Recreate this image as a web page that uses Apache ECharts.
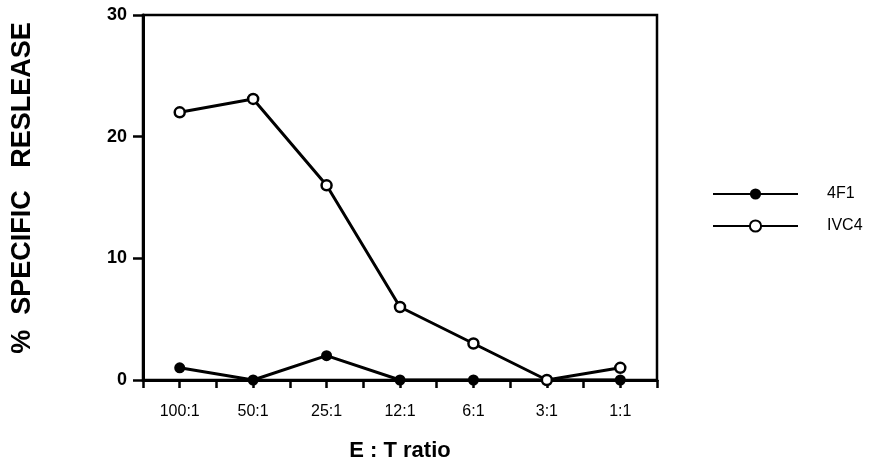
<!DOCTYPE html>
<html>
<head>
<meta charset="utf-8">
<script src="https://cdn.jsdelivr.net/npm/echarts@6/dist/echarts.min.js"></script>
<style>
  html, body { margin: 0; padding: 0; background: #fff; }
  #chart { width: 882px; height: 467px; }
</style>
</head>
<body>
<div id="chart"></div>
<script>
// E:T ratios on the x axis
const categories = ["100:1", "50:1", "25:1", "12:1", "6:1", "3:1", "1:1"];
// % specific release
const f4f1 = [1, 0, 2, 0, 0, 0, 0];
const ivc4 = [22, 23.1, 16, 6, 3, 0, 1];
const yTicks = [0, 10, 20, 30];

const font = "'Liberation Sans', Arial, Helvetica, sans-serif";
const chart = echarts.init(document.getElementById("chart"));

const tickStyle = { color: "#000", width: 2.5 };

chart.setOption({
  animation: false,
  backgroundColor: "#fff",
  grid: {
    left: 143,
    top: 15,
    width: 514,
    height: 366,
    show: true,
    borderColor: "#000",
    borderWidth: 2.5,
  },
  legend: {
    orient: "vertical",
    left: 712,
    top: 186,
    padding: 0,
    itemWidth: 85,
    itemHeight: 14,
    itemGap: 16,
    textStyle: {
      color: "#000",
      fontFamily: font,
      fontSize: 16,
      padding: [0, 0, 0, 24],
    },
    data: ["4F1", "IVC4"],
  },
  xAxis: [
    {
      type: "category",
      data: categories,
      boundaryGap: true,
      position: "bottom",
      name: "E : T ratio",
      nameLocation: "middle",
      nameGap: 60,
      nameTextStyle: {
        color: "#000",
        fontFamily: font,
        fontSize: 22,
        fontWeight: "bold",
      },
      axisLine: { show: true, lineStyle: { color: "#000", width: 3 } },
      axisTick: { show: true, length: 8, lineStyle: tickStyle },
      axisLabel: {
        color: "#000",
        fontFamily: font,
        fontSize: 16,
        margin: 24,
      },
      splitLine: { show: false },
    },
    {
      // second pass only for the ticks under each point
      type: "category",
      data: categories,
      boundaryGap: true,
      position: "bottom",
      axisLine: { show: false },
      axisTick: { show: true, alignWithLabel: true, length: 8, lineStyle: tickStyle },
      axisLabel: { show: false },
      splitLine: { show: false },
    },
  ],
  yAxis: {
    type: "value",
    min: yTicks[0],
    max: yTicks[yTicks.length - 1],
    interval: 10,
    axisLine: { show: true, lineStyle: { color: "#000", width: 3 } },
    axisTick: { show: true, length: 10, lineStyle: tickStyle },
    axisLabel: {
      color: "#000",
      fontFamily: font,
      fontSize: 18,
      fontWeight: "bold",
      margin: 16,
    },
    splitLine: { show: false },
  },
  graphic: [
    {
      type: "text",
      x: 23,
      y: 188,
      rotation: Math.PI / 2,
      style: {
        text: "%  SPECIFIC   RESLEASE",
        fill: "#000",
        font: "bold 27px " + font,
        textAlign: "center",
        textVerticalAlign: "middle",
      },
    },
  ],
  series: [
    {
      name: "4F1",
      type: "line",
      data: f4f1,
      symbol: "circle",
      symbolSize: 11,
      lineStyle: { color: "#000", width: 3 },
      itemStyle: { color: "#000" },
      emphasis: { disabled: true },
      z: 2,
    },
    {
      name: "IVC4",
      type: "line",
      data: ivc4,
      symbol: "circle",
      symbolSize: 10,
      lineStyle: { color: "#000", width: 3 },
      itemStyle: { color: "#fff", borderColor: "#000", borderWidth: 2.5 },
      emphasis: { disabled: true },
      z: 3,
    },
  ],
});
</script>
</body>
</html>
